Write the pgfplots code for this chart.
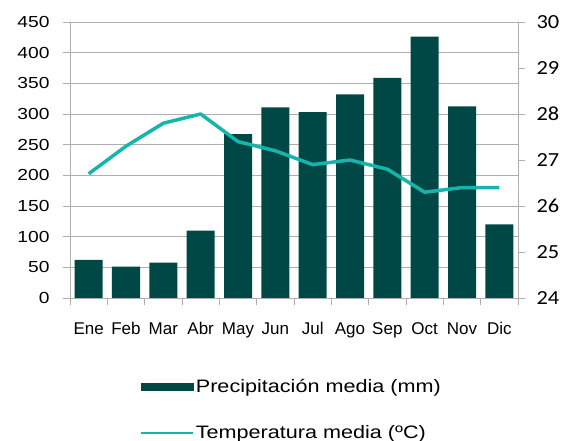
\documentclass[border=0pt]{standalone}
\usepackage{pgfplots}
\pgfplotsset{compat=1.18}
\usepackage{fontspec}
\setmainfont{Liberation Sans}
\newfontfamily\calibri{Carlito}
\definecolor{barc}{RGB}{0,72,70}
\definecolor{linec}{RGB}{22,180,170}
\definecolor{gridc}{RGB}{175,175,175}
\begin{document}
\begin{tikzpicture}
\useasboundingbox (-70pt,-143pt) rectangle (495pt,298pt);
\begin{axis}[
  scale only axis, width=448pt, height=276pt,
  xmin=-0.5, xmax=11.5, ymin=0, ymax=450,
  ytick={0,50,...,450},
  xtick={0,...,11},
  xticklabels={Ene,Feb,Mar,Abr,May,Jun,Jul,Ago,Sep,Oct,Nov,Dic},
  minor xtick={-0.5,0.5,...,11.5},
  major x tick style={draw=none},
  minor x tick style={gridc, thin},
  minor tick length=7pt,
  major tick length=7pt,
  tick align=outside,
  y tick style={gridc, thin},
  axis x line*=bottom, axis y line*=left,
  axis line style={gridc, thin, -},
  ymajorgrids, grid style={gridc, thin},
  yticklabel={\scalebox{1.2}[1]{\pgfmathprintnumber[assume math mode=true]{\tick}}},
  yticklabel style={font=\fontsize{16}{16}\selectfont, xshift=-10pt},
  xticklabel style={font=\fontsize{17}{17}\selectfont, yshift=-14pt},
  ybar, bar width=28pt,
]
\addplot[fill=barc, draw=none] coordinates {
(0,62) (1,51) (2,57.5) (3,110) (4,267) (5,311) (6,303) (7,332) (8,359) (9,426) (10,312.5) (11,120)};
\end{axis}
\begin{axis}[
  scale only axis, width=448pt, height=276pt,
  xmin=-0.5, xmax=11.5, ymin=24, ymax=30,
  ytick={24,...,30},
  axis x line=none, axis y line*=right,
  axis line style={gridc, thin, -},
  y tick style={gridc, thin},
  major tick length=7pt, tick align=outside,
  yticklabel={\scalebox{1.12}[1]{\pgfmathprintnumber[assume math mode=true]{\tick}}},
  yticklabel style={font=\calibri\fontsize{20}{20}\selectfont, xshift=8pt},
  legend style={at={(0.156,-0.285)}, anchor=north west, draw=none, fill=none,
    font=\fontsize{18}{18}\selectfont, row sep=28pt, inner sep=0pt},
  legend cell align=left,
]
\addlegendimage{legend image code/.code={\fill[barc] (0pt,-3.5pt) rectangle (52pt,3.5pt);}}
\addlegendentry{\scalebox{1.2}[1]{Precipitación media (mm)}}
\addplot[linec, line width=3.5pt, line join=round, mark=none, legend image code/.code={\draw[linec, line width=1.8pt] (0pt,0pt) -- (52pt,0pt);}] coordinates {
(0,26.7) (1,27.3) (2,27.8) (3,28.0) (4,27.4) (5,27.2) (6,26.9) (7,27.0) (8,26.8) (9,26.3) (10,26.4) (11,26.4)};
\addlegendentry{\scalebox{1.2}[1]{Temperatura media (ºC)}}
\end{axis}
\end{tikzpicture}
\end{document}
